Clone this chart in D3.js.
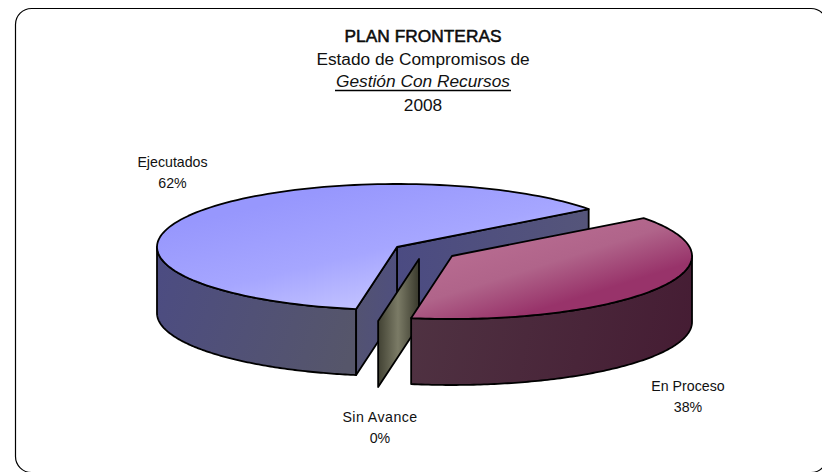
<!DOCTYPE html>
<html><head><meta charset="utf-8">
<script src="https://cdnjs.cloudflare.com/ajax/libs/d3/7.8.5/d3.min.js"></script>
<style>html,body{margin:0;padding:0;background:#fff}svg{display:block}text{font-family:"Liberation Sans",Arial,sans-serif;fill:#111}</style>
</head><body><svg id="c" width="822" height="472"></svg>
<script>
const categories = ["En Proceso", "Sin Avance", "Ejecutados"];
const values = [38, 0, 62];
const titleLines = ["PLAN FRONTERAS", "Estado de Compromisos de", "Gestión Con Recursos", "2008"];

const svg = d3.select("#c");
const defs = svg.append("defs");

// frame: its right and bottom edges run off the picture
svg.append("rect").attr("x",15.5).attr("y",8.5).attr("width",811.5).attr("height",464)
  .attr("rx",16).attr("fill","#fff").attr("stroke","#000").attr("stroke-width",1.2);

// geometry of the tilted pie
const cx = 397, cy = 247, rx = 240, ry = 63, depth = 66;
const explode = {"En Proceso":[55,9], "Sin Avance":[22,12], "Ejecutados":[0,0]};
const startDeg = 53;

const arcs = d3.pie().sort(null).value(d => d.v)
  .startAngle(startDeg*Math.PI/180).endAngle((startDeg+360)*Math.PI/180)
  (categories.map((c,i)=>({c,v:values[i]})));

const px = d3.scaleLinear().domain([-1,1]).range([-rx,rx]);
const py = d3.scaleLinear().domain([-1,1]).range([-ry,ry]);
const pt = (a,o,dz=0)=>[cx+o[0]+px(Math.sin(a)), cy+o[1]+py(-Math.cos(a))+dz];
const apex = (o,dz=0)=>[cx+o[0],cy+o[1]+dz];
const line = d3.line();
const sample = (a0,a1,o,dz=0)=>d3.range(0,121).map(i=>pt(a0+(a1-a0)*i/120,o,dz));

function grad(id,x1,y1,x2,y2,stops){
  const g = defs.append("linearGradient").attr("id",id).attr("gradientUnits","userSpaceOnUse")
    .attr("x1",x1).attr("y1",y1).attr("x2",x2).attr("y2",y2);
  stops.forEach(s=>g.append("stop").attr("offset",s[0]).attr("stop-color",s[1]));
  return `url(#${id})`;
}
const blueTop = grad("bt",345,185,375,310,[[0,"#9797fd"],[0.55,"#a6a6ff"],[1,"#c4c4ff"]]);
const blueSide = grad("bs",157,270,356,340,[[0,"#4c4c82"],[1,"#56566a"]]);
const blueCutL = grad("bl",356,0,397,0,[[0,"#535372"],[1,"#4f4f7e"]]);
const blueCutR = grad("br",397,0,587,0,[[0,"#4b4b82"],[1,"#55557a"]]);
const redTop = grad("rt",530,225,555,305,[[0,"#b86c91"],[0.5,"#b0648a"],[1,"#98336a"]]);
const redSide = grad("rs",410,320,692,380,[[0,"#4f3242"],[1,"#451c33"]]);
const olive = grad("ol",377,0,419,0,[[0,"#3e3e30"],[0.5,"#7b7b66"],[1,"#39392c"]]);

const by = c => arcs.find(d=>d.data.c===c);
const poly = (pts,fill,sw=1.8)=>svg.append("path").attr("d",line(pts)+"Z").attr("fill",fill)
  .attr("stroke","#000").attr("stroke-width",sw).attr("stroke-linejoin","round");

// Ejecutados
{
  const d = by("Ejecutados"), o = explode[d.data.c];
  const A = pt(d.startAngle,o), B = pt(d.endAngle,o), C = apex(o);
  poly(sample(d.startAngle,3*Math.PI/2,o).concat(sample(3*Math.PI/2,d.startAngle,o,depth)),blueSide);
  poly([C,B,pt(d.endAngle,o,depth),apex(o,depth)],blueCutR);
  poly([C,A,pt(d.startAngle,o,depth),apex(o,depth)],blueCutL);
  poly(sample(d.startAngle,d.endAngle,o).concat([C]),blueTop);
}
// Sin Avance (a zero-width slice: only its cut face shows)
{
  const d = by("Sin Avance"), o = explode[d.data.c];
  poly([apex(o),pt(d.startAngle,o),pt(d.startAngle,o,depth),apex(o,depth)],olive);
}
// En Proceso
{
  const d = by("En Proceso"), o = explode[d.data.c];
  poly(sample(Math.PI/2,d.endAngle,o).concat(sample(d.endAngle,Math.PI/2,o,depth)),redSide);
  poly(sample(d.startAngle,d.endAngle,o).concat([apex(o)]),redTop);
}

// title
const titleY = [42,65,87,111], titleX = 423;
svg.append("text").attr("x",titleX).attr("y",titleY[0]).attr("text-anchor","middle")
  .attr("font-size",17.3).attr("stroke","#000").attr("stroke-width",0.5).attr("textLength",157).text(titleLines[0]);
svg.append("text").attr("x",titleX).attr("y",titleY[1]).attr("text-anchor","middle")
  .attr("font-size",17.3).text(titleLines[1]);
svg.append("text").attr("x",titleX).attr("y",titleY[2]).attr("text-anchor","middle")
  .attr("font-size",17.3).attr("font-style","italic").attr("textLength",174).text(titleLines[2]);
svg.append("line").attr("x1",335).attr("x2",511).attr("y1",90.5).attr("y2",90.5).attr("stroke","#000").attr("stroke-width",1.3);
svg.append("text").attr("x",titleX).attr("y",titleY[3]).attr("text-anchor","middle")
  .attr("font-size",17.3).text(titleLines[3]);

// data labels
const labelPos = {"Ejecutados":[172.5,167],"En Proceso":[688,391],"Sin Avance":[380,422]};
const labelSpacing = {"Ejecutados":0,"En Proceso":0,"Sin Avance":0.45};
categories.forEach((c,i)=>{
  const p = labelPos[c];
  const t = svg.append("text").attr("text-anchor","middle").attr("font-size",14.2);
  t.append("tspan").attr("x",p[0]).attr("y",p[1]).attr("letter-spacing",labelSpacing[c]).text(c);
  t.append("tspan").attr("x",p[0]).attr("y",p[1]+20.5).text(values[i]+"%");
});
</script></body></html>
